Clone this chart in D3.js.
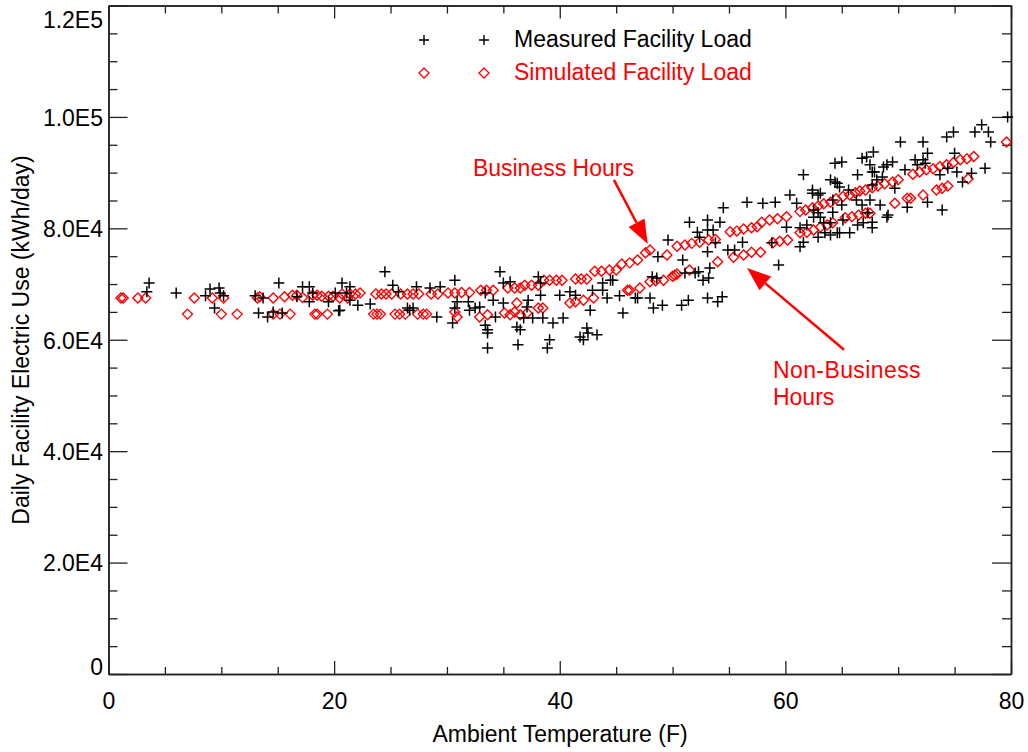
<!DOCTYPE html>
<html>
<head>
<meta charset="utf-8">
<script src="https://cdn.jsdelivr.net/npm/d3@7"></script>
<style>
  body { margin: 0; background: #fff; }
  text { font-family: "Liberation Sans", Arial, Helvetica, sans-serif; }
</style>
</head>
<body>
<div id="chart"></div>
<script>
var w = 1028;
var h = 752;

// measured daily load (black crosses): temperature (F), kWh/day
var measuredTemp = [3.6,3.4,6.0,9.0,8.6,9.8,9.9,10.2,9.4,13.0,13.3,13.7,14.1,14.6,15.4,15.1,16.7,17.2,17.8,17.8,18.1,19.5,20.1,20.7,20.4,21.1,
  20.5,21.4,21.4,22.1,23.2,24.5,25.2,25.7,26.5,26.7,27.0,27.3,28.5,29.1,29.4,30.5,30.7,30.9,31.9,32.0,32.5,32.9,33.4,33.4,33.6,33.6,33.6,
  34.1,34.3,34.7,35.0,35.0,35.6,36.2,36.5,36.3,36.8,37.2,37.1,37.6,38.1,38.3,38.5,38.3,38.9,39.1,39.4,40.3,40.9,41.4,41.8,42.1,42.4,42.5,
  42.9,43.3,43.8,44.5,45.6,46.7,
  43.8,44.7,44.2,46.9,48.0,48.2,48.6,48.7,49.6,50.9,51.1,51.5,52.2,52.4,53.1,53.1,53.6,53.8,53.1,53.3,53.2,52.7,52.0,52.3,54.2,54.5,54.9,
  55.5,56.2,56.6,58.0,59.1,58.8,59.4,60.4,61.0,61.6,61.3,61.9,62.4,62.5,62.9,63.1,62.9,63.5,64.0,64.2,64.6,64.8,64.4,48.3,49.1,50.8,53.1,
  54.0,54.4,
  61.6,62.4,62.9,64.0,64.4,64.6,65.0,64.2,63.1,65.1,65.0,66.4,66.8,67.2,67.8,67.5,67.7,67.9,68.1,67.7,68.7,69.0,69.5,69.7,66.8,67.5,67.3,
  66.9,67.7,67.7,66.4,69.0,69.1,68.6,70.2,70.8,72.2,71.5,71.7,72.2,72.6,72.4,72.6,73.9,74.4,74.3,74.9,75.0,75.2,75.7,76.8,77.4,78.0,78.2,
  77.7,79.7,76.5,60.1,61.3,62.5,63.4,64.0,64.8,65.7,
  45.3,51.4,66.3,65.6,68.4,70.6,73.7,42.7,30.7,40.0];
var measuredLoad = [70200,68600,68400,69100,67900,69300,68400,67900,65700,67900,64800,67500,64100,65000,64800,70200,67700,69500,69500,66800,68400,66800,68400,70200,65200,68400,
  65300,69500,67100,66200,66400,72200,69800,68600,65700,65300,65700,69500,69300,64100,69500,63000,70700,66800,66800,65300,65700,65900,68400,62600,61200,61800,58500,
  67100,64100,72200,70200,66600,70400,62300,61800,59100,63900,67100,65900,63900,71300,68000,63900,70200,58500,60000,63000,63900,68600,68000,60500,60000,62100,61200,
  68900,60900,70200,70700,64800,67500,
  68900,70700,67500,67500,67500,71300,71100,74900,77900,74300,72000,81100,79300,78400,81500,79700,79700,77400,75800,72900,71100,70700,72000,72200,81100,83700,76100,
  76100,77500,84700,84500,84700,77400,73400,86000,84500,77500,76700,80600,86300,82000,82800,86300,78400,79200,81000,82900,79200,87400,88300,65700,66200,66200,67500,
  66800,67700,
  89600,86900,86000,88700,91700,88100,91900,85100,82000,81500,84200,89600,92600,92800,93700,91400,90100,90100,88700,87800,91000,91400,91900,87200,84200,85100,82800,
  81000,81100,80100,80600,82000,82400,89200,95500,83800,95500,92300,91400,92300,93500,91700,84700,83300,90800,96400,97300,93500,90100,88300,97300,98600,97300,95500,
  90800,100000,89900,80200,80100,83300,81000,78800,79200,79200,
  67900,67100,85100,86900,84200,90500,89600,65300,65700,68000];

// simulated load, business days (red diamonds, upper band)
var simBizTemp = [1.1,1.3,2.6,3.3,7.6,9.2,10.2,13.2,13.4,14.6,15.6,16.3,16.7,17.2,18.1,18.5,18.9,19.5,19.9,20.5,20.7,21.2,21.4,21.9,22.3,
  23.7,24.2,24.6,25.1,25.9,26.5,27.0,27.5,28.6,29.2,30.1,30.7,31.3,32.0,33.0,33.5,34.1,35.4,36.0,36.5,36.9,37.5,38.1,38.6,39.1,39.7,40.2,
  41.4,41.9,42.4,43.1,43.7,44.4,45.0,45.5,46.2,46.9,47.6,48.0,49.5,50.4,51.1,51.7,52.4,53.2,53.8,55.1,55.7,56.3,57.0,57.5,57.9,58.6,59.3,
  60.1,61.3,61.8,62.4,62.9,63.4,64.0,64.5,65.1,65.7,66.2,66.6,67.1,67.7,68.2,68.8,69.5,70.0,71.3,71.9,72.5,73.1,73.7,74.3,74.9,75.5,76.1,
  76.7,79.6];
var simBizLoad = [67500,67500,67500,67500,67500,67500,67500,67500,67700,67500,67700,68000,68000,67600,68000,68000,67800,67800,67800,67500,68200,67500,68200,68200,68400,
  68200,68200,68200,68200,68200,68200,68200,68200,68200,68200,68400,68400,68500,68500,68900,68900,68900,69300,69300,69300,69800,69800,69800,70700,70700,70700,70700,
  70900,70900,70900,72300,72300,72500,72500,73600,73800,74300,75600,76100,75200,76800,77000,77300,77500,77900,78000,79400,79500,79900,80100,80300,81100,81500,81700,
  82100,83000,83300,83700,84000,84400,84700,85300,85700,86000,86400,86700,86900,87300,87600,88000,88300,88700,89700,90100,90500,90700,91100,91400,91800,92300,92500,
  92900,95500];

// simulated load, non-business days (red diamonds, lower band)
var simNonTemp = [7.0,10.0,11.4,14.6,15.2,16.1,18.3,18.5,19.4,23.5,23.8,24.1,25.4,25.8,26.3,27.4,27.9,28.2,30.7,30.9,32.9,33.6,35.1,35.6,36.0,
  36.5,37.1,36.2,38.1,38.5,40.9,41.4,42.1,43.0,46.0,46.2,47.1,48.0,48.5,49.2,50.0,50.2,50.4,51.5,54.0,55.4,56.3,57.0,57.8,58.9,59.5,60.2,
  61.3,61.9,62.5,63.1,63.7,64.2,65.3,65.9,66.5,67.1,67.5,69.7,70.8,71.1,72.2,73.4,73.9,74.4,76.2];
var simNonLoad = [64600,64600,64600,64600,64600,64600,64600,64600,64600,64600,64600,64600,64600,64600,64600,64600,64600,64600,65000,64100,64100,64500,64800,64500,65000,
  64500,64800,66600,65700,65700,66600,66800,67100,67500,68900,68900,69300,70400,70600,70700,71400,71600,71800,72500,74000,74800,75200,75700,75700,77400,77700,77900,
  79200,79300,79700,80200,80600,81000,81900,82100,82400,82700,82700,84500,85400,85400,86000,86900,87200,87600,88900];

var xTicks = [0, 20, 40, 60, 80];
var yTicks = [0, 20000, 40000, 60000, 80000, 100000, 120000];
var yTickLabels = ["0", "2.0E4", "4.0E4", "6.0E4", "8.0E4", "1.0E5", "1.2E5"];

var svg = d3.select("#chart").append("svg").attr("width", w).attr("height", h);
svg.append("rect").attr("width", w).attr("height", h).attr("fill", "#fff");

var x = d3.scaleLinear().domain([0, 80]).range([108.5, 1011]);
var y = d3.scaleLinear().domain([0, 120000]).range([674, 5.5]);

var xMinor = d3.range(0, 81, 5).filter(function(v) { return v % 20 != 0; });
var yMinor = d3.range(0, 120001, 5000).filter(function(v) { return v % 20000 != 0; });

function axisStyle(g) {
  g.select(".domain").attr("stroke", "#222").attr("stroke-width", 1.5);
  g.selectAll(".tick line").attr("stroke", "#222").attr("stroke-width", 1.3);
  g.selectAll("text").attr("font-size", 23).attr("fill", "#000")
    .attr("font-family", "Liberation Sans, Arial, sans-serif");
}

// bottom axis with labels
var gb = svg.append("g").attr("transform", "translate(0,674)")
  .call(d3.axisBottom(x).tickValues(xTicks).tickSize(-13).tickSizeOuter(0).tickPadding(19).tickFormat(d3.format("d")));
axisStyle(gb);
var gbm = svg.append("g").attr("transform", "translate(0,674)")
  .call(d3.axisBottom(x).tickValues(xMinor).tickSize(-7).tickSizeOuter(0).tickFormat(""));
axisStyle(gbm);

// top axis, no labels
var gt = svg.append("g").attr("transform", "translate(0,5.5)")
  .call(d3.axisTop(x).tickValues(xTicks).tickSize(-13).tickSizeOuter(0).tickFormat(""));
axisStyle(gt);
var gtm = svg.append("g").attr("transform", "translate(0,5.5)")
  .call(d3.axisTop(x).tickValues(xMinor).tickSize(-8).tickSizeOuter(0).tickFormat(""));
axisStyle(gtm);

// left axis with labels
var gl = svg.append("g").attr("transform", "translate(108.5,0)")
  .call(d3.axisLeft(y).tickValues(yTicks).tickSize(-19).tickSizeOuter(0).tickPadding(5.5)
    .tickFormat(function(d, i) { return yTickLabels[i]; }));
axisStyle(gl);
// IDL keeps the end labels inside the axis range
gl.selectAll(".tick text").attr("dy", function(d) {
  if (d == 0) return 0;
  if (d == 120000) return 21.5;
  return 8.3;
});
var glm = svg.append("g").attr("transform", "translate(108.5,0)")
  .call(d3.axisLeft(y).tickValues(yMinor).tickSize(-9).tickSizeOuter(0).tickFormat(""));
axisStyle(glm);

// right axis, no labels
var gr = svg.append("g").attr("transform", "translate(1011,0)")
  .call(d3.axisRight(y).tickValues(yTicks).tickSize(-19).tickSizeOuter(0).tickFormat(""));
axisStyle(gr);
var grm = svg.append("g").attr("transform", "translate(1011,0)")
  .call(d3.axisRight(y).tickValues(yMinor).tickSize(-9).tickSizeOuter(0).tickFormat(""));
axisStyle(grm);

var crossPath = "M-5.5,0H5.5M0,-5.5V5.5";
var diamondPath = "M0,-5L5,0L0,5L-5,0Z";

function diamonds(temps, loads) {
  svg.append("g").selectAll("path").data(temps).enter().append("path")
    .attr("d", diamondPath)
    .attr("transform", function(d, i) { return "translate(" + x(d) + "," + y(loads[i]) + ")"; })
    .attr("fill", "none")
    .attr("stroke", "#ff0000")
    .attr("stroke-width", 1.4);
}

diamonds(simBizTemp, simBizLoad);
diamonds(simNonTemp, simNonLoad);

svg.append("g").selectAll("path").data(measuredTemp).enter().append("path")
  .attr("d", crossPath)
  .attr("transform", function(d, i) { return "translate(" + x(d) + "," + y(measuredLoad[i]) + ")"; })
  .attr("fill", "none")
  .attr("stroke", "#000")
  .attr("stroke-width", 1.5);

// legend
function disptext(tex, px, py, col, size, anchor) {
  return svg.append("text").text(tex)
    .attr("x", px).attr("y", py)
    .attr("fill", col)
    .attr("font-size", size)
    .attr("text-anchor", anchor || "start");
}

[424, 484].forEach(function(px) {
  svg.append("path").attr("d", "M-5,0H5M0,-5V5").attr("transform", "translate(" + px + ",40)")
    .attr("stroke", "#000").attr("stroke-width", 1.4);
  svg.append("path").attr("d", diamondPath).attr("transform", "translate(" + px + ",73)")
    .attr("fill", "none").attr("stroke", "#ff0000").attr("stroke-width", 1.3);
});
disptext("Measured Facility Load", 514, 47, "#000", 23);
disptext("Simulated Facility Load", 514, 80, "#ff0000", 23);

// annotations
function arrow(t0, l0, t1, l1) {
  var x0 = x(t0), y0 = y(l0), x1 = x(t1), y1 = y(l1);
  var a = Math.atan2(y1 - y0, x1 - x0);
  var hl = 24, hw = 9;
  var bx = x1 - hl * Math.cos(a), by = y1 - hl * Math.sin(a);
  svg.append("line").attr("x1", x0).attr("y1", y0).attr("x2", bx).attr("y2", by)
    .attr("stroke", "#ff0000").attr("stroke-width", 2.5);
  svg.append("path")
    .attr("d", "M" + x1 + "," + y1 +
      "L" + (bx + hw * Math.sin(a)) + "," + (by - hw * Math.cos(a)) +
      "L" + (bx - hw * Math.sin(a)) + "," + (by + hw * Math.cos(a)) + "Z")
    .attr("fill", "#ff0000");
}

disptext("Business Hours", x(32.3), y(89400), "#ff0000", 23);
arrow(44.8, 88700, 47.8, 77200);

disptext("Non-Business", x(58.9), y(53100), "#ff0000", 23).attr("letter-spacing", 0.4);
disptext("Hours", x(58.9), y(48300), "#ff0000", 23);
arrow(65.2, 58200, 56.6, 72900);

// axis titles
disptext("Ambient Temperature (F)", 560, 742, "#000", 23, "middle");
svg.append("text").text("Daily Facility Electric Use (kWh/day)")
  .attr("transform", "translate(29,340) rotate(-90)")
  .attr("text-anchor", "middle")
  .attr("font-size", 23)
  .attr("fill", "#000");
</script>
</body>
</html>
